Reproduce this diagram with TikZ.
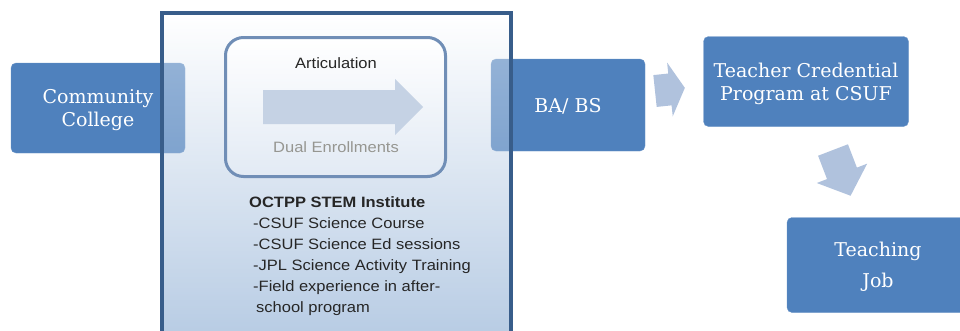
\documentclass[tikz,border=0pt]{standalone}
\usepackage{fontspec}
\setmainfont{DejaVu Serif}
\newfontfamily\arialfont[FakeStretch=1.1]{Liberation Sans}
\usetikzlibrary{positioning}

\definecolor{boxblue}{RGB}{79,129,189}
\definecolor{frameblue}{RGB}{56,93,138}
\definecolor{rimblue}{RGB}{112,142,182}
\definecolor{paleblue}{RGB}{197,210,228}
\definecolor{arrowblue}{RGB}{176,194,221}
\definecolor{shadeblue}{RGB}{97,142,195}
\definecolor{innerblue}{RGB}{226,234,244}
\definecolor{textgray}{RGB}{38,38,38}
\definecolor{dualgray}{RGB}{150,150,145}

\tikzset{
  stage/.style={rectangle, rounded corners=5pt, fill=boxblue, draw=boxblue!85!white,
    text=white, align=center, inner sep=0pt, text depth=0pt},
  stagefont/.style={font=\fontsize{19}{23}\selectfont},
  sanstext/.style={font=\arialfont\fontsize{15}{21}\selectfont, text=textgray, inner sep=0pt},
}

\newcommand\blockarrow[5]{%
  \fill[arrowblue, shift={(#1,#2)}, rotate=#3]
    (0,-16) -- ({#4-#5},-16) -- ({#4-#5},-27) -- (#4,0) -- ({#4-#5},27)
    -- ({#4-#5},16) -- (0,16) -- cycle;}

\begin{document}
\begin{tikzpicture}[x=1pt,y=-1pt]
 \useasboundingbox (0,0) rectangle (960,330);
 \node[stage, stagefont, minimum width=174pt, minimum height=90pt] (college) at (98,108) {Community\\College};
 \node[stage, stagefont, minimum width=154pt, minimum height=92pt] (babs) at (568,105) {BA/ BS};
 \node[stage, stagefont, minimum width=205pt, minimum height=90pt] (credential) at (806,81.5) {Teacher Credential\\Program at CSUF};
 \node[stage, font=\fontsize{19}{31}\selectfont, minimum width=182pt, minimum height=95pt] (job) at (878,265) {Teaching\\Job};
 \shade[top color=white, bottom color=shadeblue, fill opacity=0.45] (162,13) rectangle (511,335);
 \draw[frameblue, line width=4pt] (162,13) rectangle (511,400);
 \node[draw=rimblue, line width=3pt, rounded corners=18pt, minimum width=220pt, minimum height=139pt,
   top color=white, bottom color=innerblue] (dualbox) at (335.5,107) {};
 \fill[paleblue] (263,90) -- (395,90) -- (395,79) -- (423,107) -- (395,135) -- (395,124) -- (263,124) -- cycle;
 \node[sanstext] (articulation) at (336,63) {Articulation};
 \node[sanstext, text=dualgray] (dual) at (336,147) {Dual Enrollments};
 \node[sanstext, anchor=base west] (octpp) at (249,207) {\bfseries OCTPP STEM Institute};
 \foreach \txt [count=\i] in {-CSUF Science Course, -CSUF Science Ed sessions,
   -JPL Science Activity Training, -Field experience in after-}
   \node[sanstext, anchor=base west] (item\i) at (253,{207+21*\i}) {\txt};
 \node[sanstext, anchor=base west] (item5) at (256,312) {school program};
 \blockarrow{655}{91}{6}{30}{15}
 \blockarrow{833}{150}{-69}{49}{24}
\end{tikzpicture}
\end{document}
